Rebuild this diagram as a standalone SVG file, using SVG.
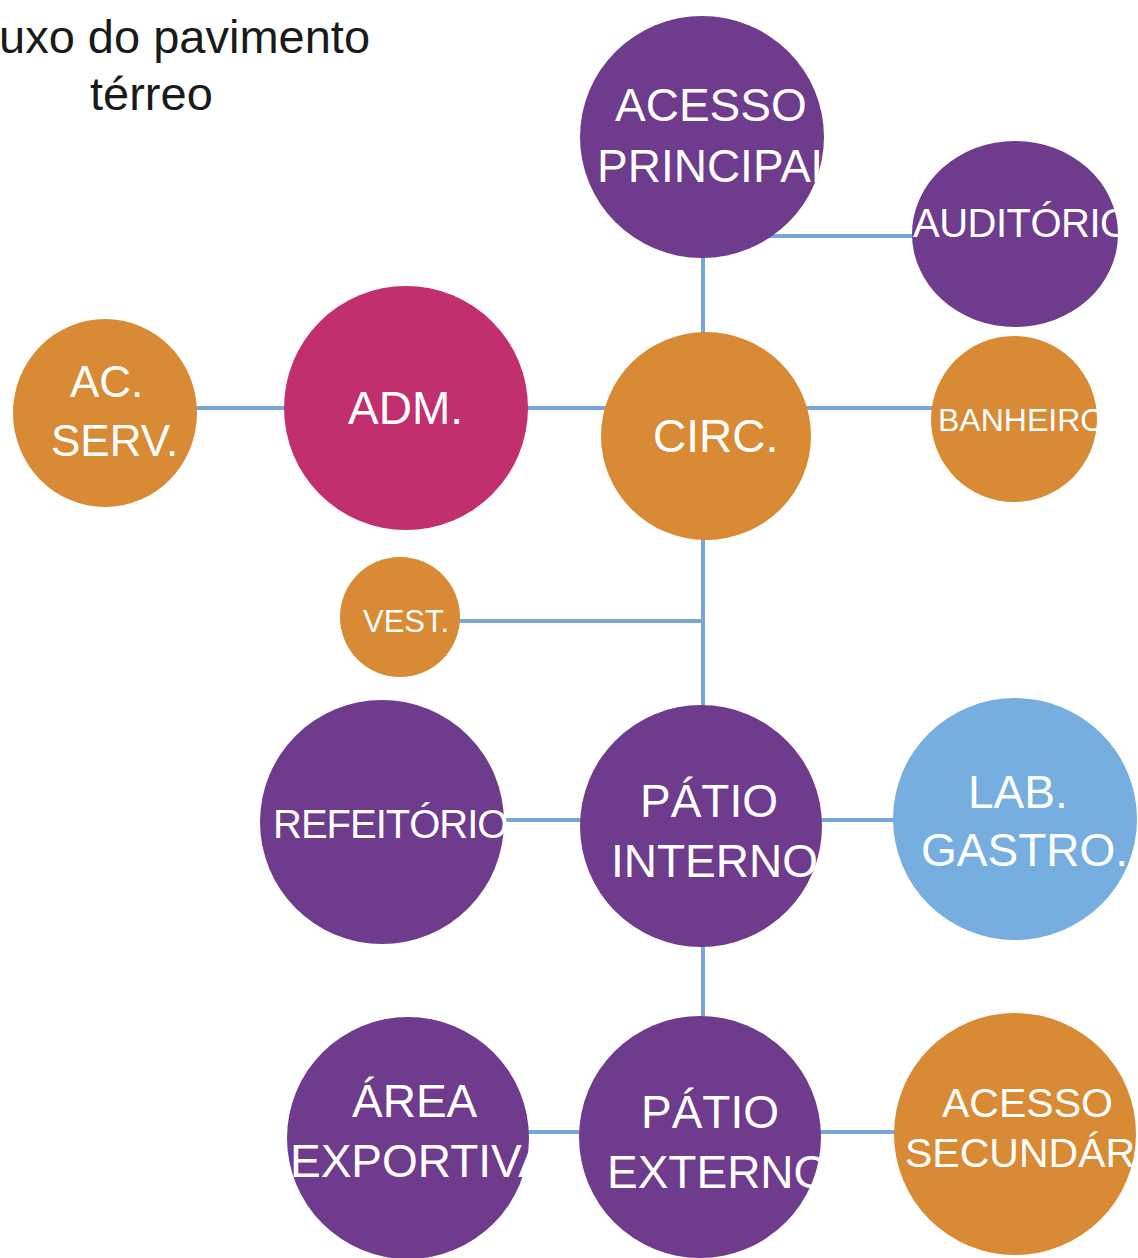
<svg xmlns="http://www.w3.org/2000/svg" width="1138" height="1258" viewBox="0 0 1138 1258">
  <style>
    .title { font-family: "Liberation Sans", Arial, sans-serif; font-size: 47px; fill: #1a1a1a; }
    .lbl { font-family: "Liberation Sans", Arial, sans-serif; fill: #ffffff; }
    .s46 { font-size: 46px; }
    .s44 { font-size: 44px; }
    .s41 { font-size: 41px; }
    .s40 { font-size: 40px; }
    .s32 { font-size: 32px; }
    .s31 { font-size: 31px; }
    .purple { fill: #6f3b8d; }
    .orange { fill: #d98a34; }
    .magenta { fill: #c12f6e; }
    .sky { fill: #76aee0; }
    .link { stroke: #78a6d6; stroke-width: 4; fill: none; }
  </style>

  <rect width="1138" height="1258" fill="#ffffff"/>

  <!-- heading -->
  <g id="title">
    <text class="title" x="-1" y="53">uxo do pavimento</text>
    <text class="title" x="90" y="110">térreo</text>
  </g>

  <!-- connections between rooms -->
  <g id="connectors">
    <line class="link" x1="703" y1="137" x2="703" y2="1137"/>
    <line class="link" x1="702" y1="236" x2="1015" y2="236"/>
    <line class="link" x1="105" y1="408" x2="406" y2="408"/>
    <line class="link" x1="406" y1="408" x2="706" y2="408"/>
    <line class="link" x1="706" y1="408" x2="1015" y2="408"/>
    <line class="link" x1="400" y1="621" x2="703" y2="621"/>
    <line class="link" x1="382" y1="820" x2="701" y2="820"/>
    <line class="link" x1="701" y1="820" x2="1015" y2="820"/>
    <line class="link" x1="408" y1="1132" x2="700" y2="1132"/>
    <line class="link" x1="700" y1="1132" x2="1015" y2="1132"/>
  </g>

  <g id="acesso-principal">
    <ellipse class="purple" cx="702" cy="137" rx="122" ry="121"/>
    <text class="lbl s46" x="615" y="121">ACESSO</text>
    <text class="lbl s46" x="597" y="182">PRINCIPAL</text>
  </g>

  <g id="auditorio">
    <ellipse class="purple" cx="1015" cy="234" rx="103" ry="93"/>
    <text class="lbl s40" x="913" y="237" letter-spacing="-0.5">AUDITÓRIO</text>
  </g>

  <g id="ac-serv">
    <ellipse class="orange" cx="105" cy="413" rx="92" ry="94"/>
    <text class="lbl s44" x="70" y="397">AC.</text>
    <text class="lbl s44" x="51" y="456">SERV.</text>
  </g>

  <g id="adm">
    <ellipse class="magenta" cx="406" cy="408" rx="122" ry="122"/>
    <text class="lbl s46" x="348" y="424">ADM.</text>
  </g>

  <g id="circ">
    <ellipse class="orange" cx="706" cy="436" rx="105" ry="104"/>
    <text class="lbl s46" x="653" y="452">CIRC.</text>
  </g>

  <g id="banheiros">
    <ellipse class="orange" cx="1014" cy="419" rx="83" ry="83"/>
    <text class="lbl s32" x="938" y="431">BANHEIROS</text>
  </g>

  <g id="vest">
    <ellipse class="orange" cx="400" cy="617" rx="60" ry="60"/>
    <text class="lbl s31" x="363" y="632">VEST.</text>
  </g>

  <g id="refeitorio">
    <ellipse class="purple" cx="382" cy="822" rx="122" ry="122"/>
    <text class="lbl s40" x="273" y="838" letter-spacing="-1">REFEITÓRIO</text>
  </g>

  <g id="patio-interno">
    <ellipse class="purple" cx="701" cy="826" rx="121" ry="121"/>
    <text class="lbl s46" x="640" y="817">PÁTIO</text>
    <text class="lbl s46" x="611" y="877">INTERNO</text>
  </g>

  <g id="lab-gastro">
    <ellipse class="sky" cx="1015" cy="819" rx="122" ry="121"/>
    <text class="lbl s46" x="968" y="808">LAB.</text>
    <text class="lbl s46" x="921" y="866">GASTRO.</text>
  </g>

  <g id="area-exportiva">
    <ellipse class="purple" cx="408" cy="1138" rx="121" ry="121"/>
    <text class="lbl s46" x="352" y="1117">ÁREA</text>
    <text class="lbl s46" x="290" y="1177">EXPORTIVA</text>
  </g>

  <g id="patio-externo">
    <ellipse class="purple" cx="700" cy="1137" rx="121" ry="121"/>
    <text class="lbl s46" x="641" y="1128">PÁTIO</text>
    <text class="lbl s46" x="607" y="1188">EXTERNO</text>
  </g>

  <g id="acesso-secundario">
    <ellipse class="orange" cx="1015" cy="1134" rx="121" ry="121"/>
    <text class="lbl s41" x="942" y="1117">ACESSO</text>
    <text class="lbl s41" x="905" y="1167">SECUNDÁRIO</text>
  </g>
</svg>
